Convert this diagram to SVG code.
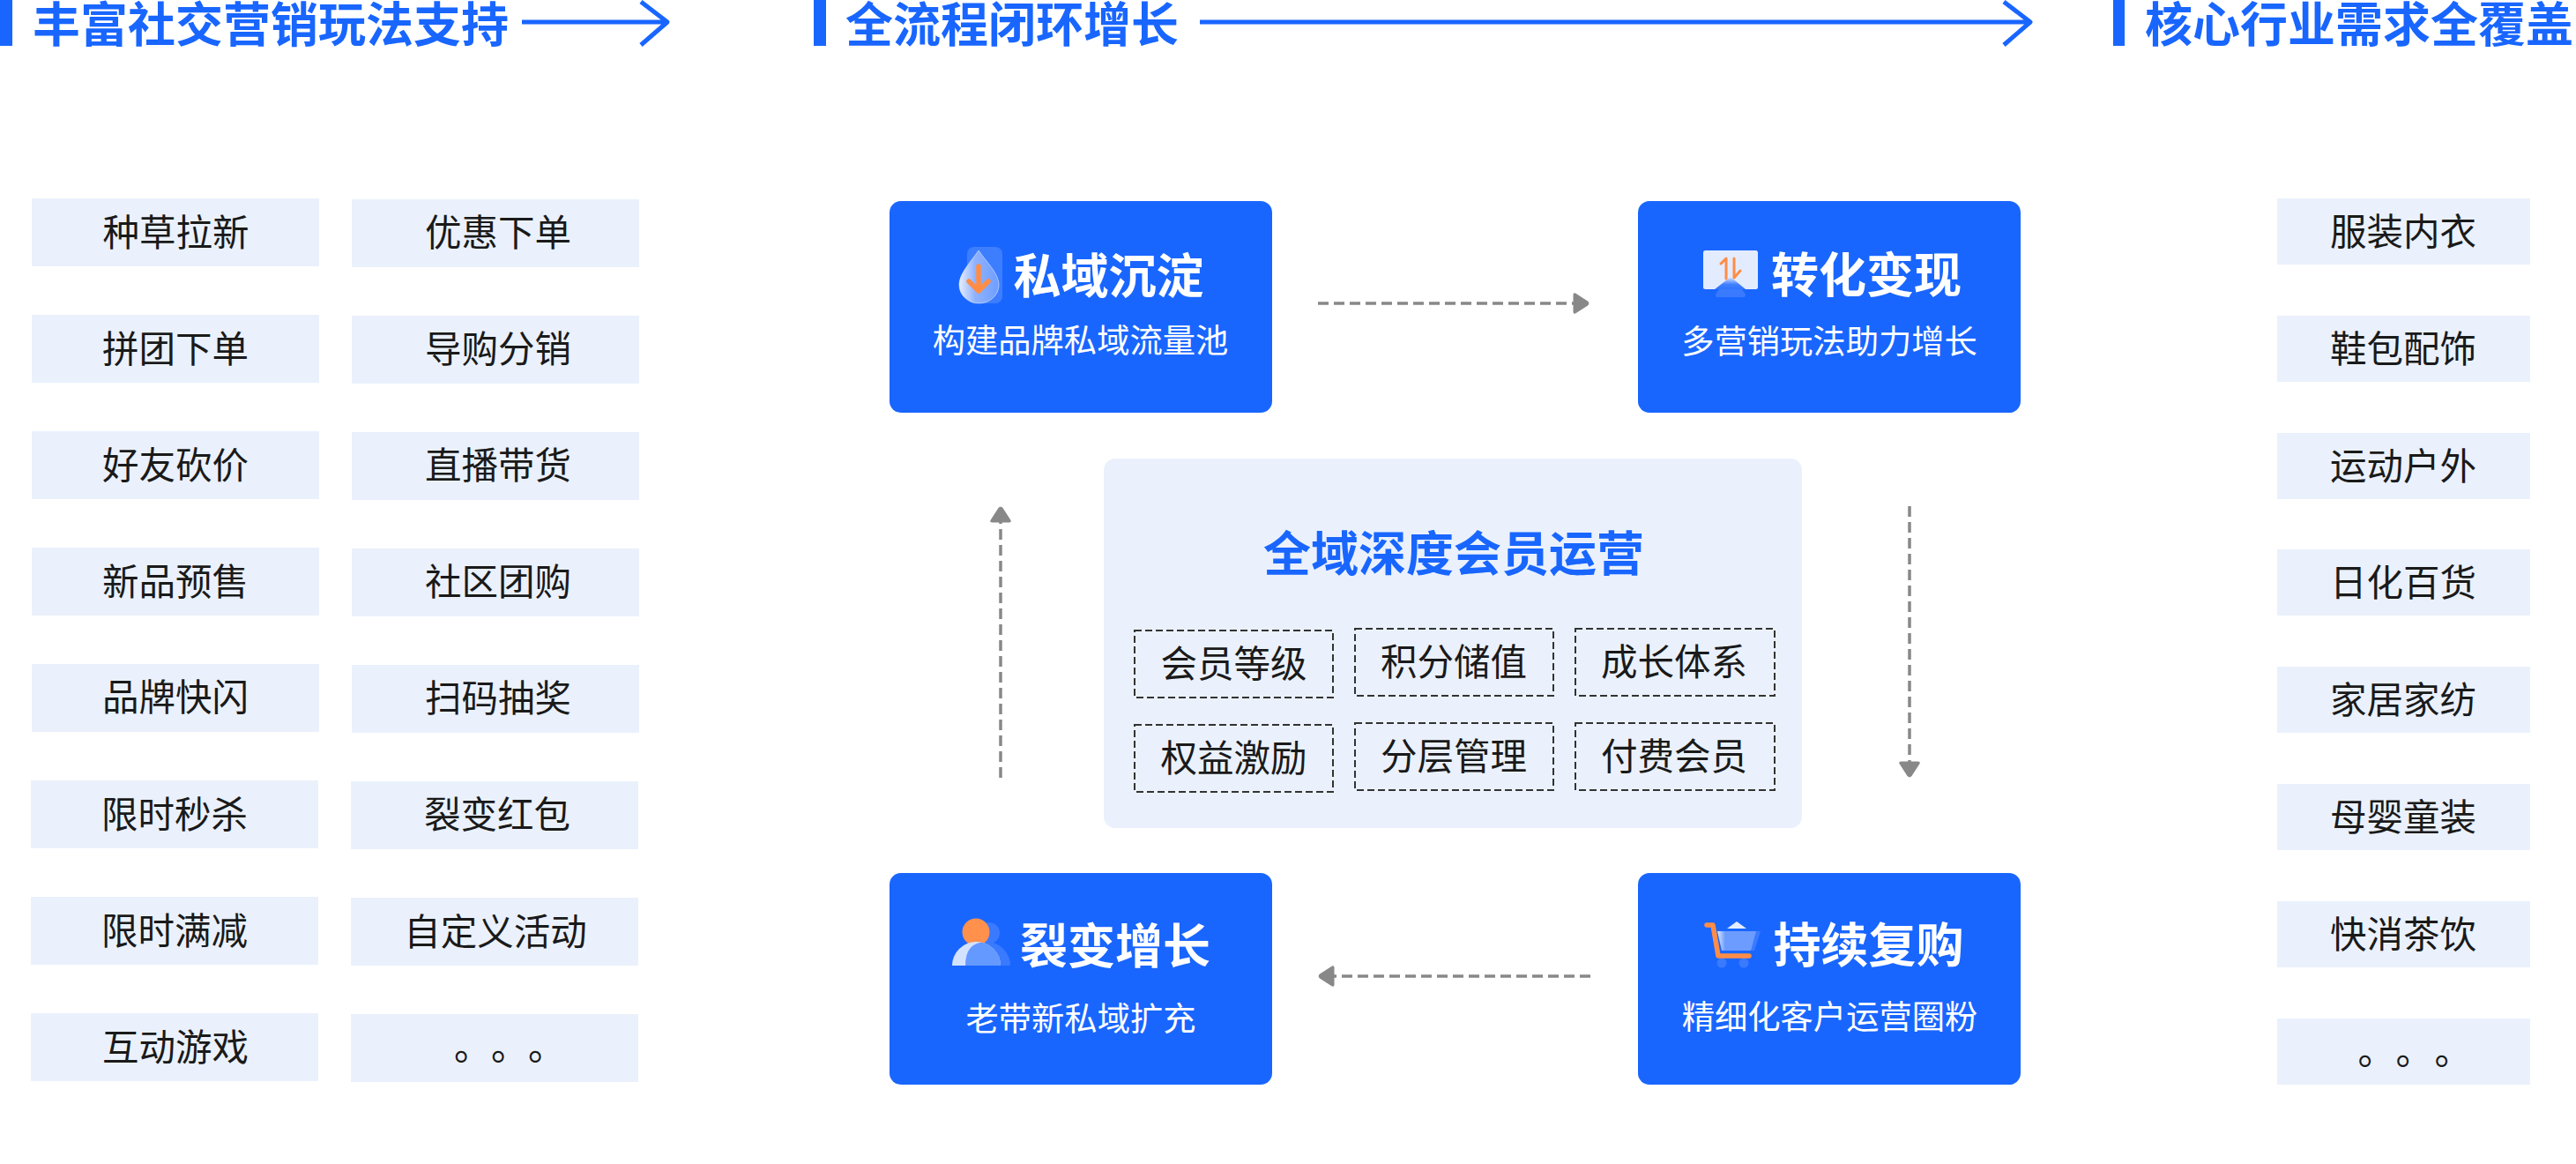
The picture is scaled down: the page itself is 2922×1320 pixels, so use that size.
<svg xmlns="http://www.w3.org/2000/svg" width="2922" height="1320" viewBox="0 0 2922 1320">
<style>
text{font-family:"Noto Sans CJK SC","Noto Sans",sans-serif}
.h{font-size:54px;font-weight:700;fill:#1966ff}
.bar{fill:#1966ff}
.ha{fill:none;stroke:#1966ff;stroke-width:5;stroke-linejoin:round}
.tag{fill:#eaf1fc}
.t{font-size:41.5px;fill:#1a1a1a;text-anchor:middle}
.dots{font-size:42px;fill:#1a1a1a}
.b{fill:#1966ff}
.bt{font-size:54px;font-weight:700;fill:#fff;text-anchor:middle}
.bs{font-size:37.3px;fill:#fff;text-anchor:middle}
.d{fill:none;stroke:#333;stroke-width:2;stroke-dasharray:8 4}
.c{fill:none;stroke:#888;stroke-width:3.5;stroke-dasharray:12 6}
.or{fill:none;stroke:#ff8d47;stroke-linecap:round;stroke-linejoin:round}
</style>
<defs>
<marker id="ah" markerUnits="userSpaceOnUse" markerWidth="24" markerHeight="28" refX="1" refY="14" orient="auto"><path d="M1,4 Q1,2 3,3 L17,12 Q19,14 17,16 L3,25 Q1,26 1,24 Z" fill="#888" stroke="#888" stroke-width="1"/></marker>
<linearGradient id="dg" x1="0" x2="1" y1="0" y2="0"><stop offset="0" stop-color="#e6eeff"/><stop offset=".4" stop-color="#8fb2ff"/><stop offset="1" stop-color="#6f9eff"/></linearGradient>
<linearGradient id="mg" x1="0" x2="0" y1="0" y2="1"><stop offset="0" stop-color="#2f74ff" stop-opacity="0"/><stop offset=".6" stop-color="#2f74ff" stop-opacity=".9"/><stop offset="1" stop-color="#2f74ff"/></linearGradient>
<linearGradient id="cg" x1="0" x2="1" y1="0" y2="0"><stop offset="0" stop-color="#dfe9ff"/><stop offset=".2" stop-color="#6c9cff"/><stop offset="1" stop-color="#6c9cff"/></linearGradient>
<clipPath id="pc"><path d="M1080,1095 A27.5,27 0 0 1 1135,1095 Z"/></clipPath>
</defs>

<g id="header-left">
<rect class="bar" x="0" y="0" width="14" height="52"/>
<text class="h" x="37" y="48">丰富社交营销玩法支持</text>
<path class="ha" d="M592,25 H757 M727,2 L757,25 L727,51"/>
</g>
<g id="header-middle">
<rect class="bar" x="923" y="0" width="14" height="52"/>
<text class="h" x="959" y="48">全流程闭环增长</text>
<path class="ha" d="M1361,25 H2303 M2273,2 L2303,25 L2273,51"/>
</g>
<g id="header-right">
<rect class="bar" x="2397" y="0" width="13" height="52"/>
<text class="h" x="2433" y="48">核心行业需求全覆盖</text>
</g>

<g id="left-col-1">
<g id="l1"><rect class="tag" x="36" y="225" width="326" height="77"/><text class="t" x="199.5" y="279">种草拉新</text></g>
<g id="l2"><rect class="tag" x="36" y="357" width="326" height="77"/><text class="t" x="199" y="411">拼团下单</text></g>
<g id="l3"><rect class="tag" x="36" y="489" width="326" height="77"/><text class="t" x="199" y="543">好友砍价</text></g>
<g id="l4"><rect class="tag" x="36" y="621" width="326" height="77"/><text class="t" x="199" y="675">新品预售</text></g>
<g id="l5"><rect class="tag" x="36" y="753" width="326" height="77"/><text class="t" x="199" y="806">品牌快闪</text></g>
<g id="l6"><rect class="tag" x="35" y="885" width="326" height="77"/><text class="t" x="198" y="939">限时秒杀</text></g>
<g id="l7"><rect class="tag" x="35" y="1017" width="326" height="77"/><text class="t" x="198" y="1071">限时满减</text></g>
<g id="l8"><rect class="tag" x="35" y="1149" width="326" height="77"/><text class="t" x="199" y="1203">互动游戏</text></g>
</g>
<g id="left-col-2">
<g id="m1"><rect class="tag" x="399" y="226" width="326" height="77"/><text class="t" x="565" y="279">优惠下单</text></g>
<g id="m2"><rect class="tag" x="399" y="358" width="326" height="77"/><text class="t" x="565" y="411">导购分销</text></g>
<g id="m3"><rect class="tag" x="399" y="490" width="326" height="77"/><text class="t" x="565" y="543">直播带货</text></g>
<g id="m4"><rect class="tag" x="399" y="622" width="326" height="77"/><text class="t" x="565" y="675">社区团购</text></g>
<g id="m5"><rect class="tag" x="399" y="754" width="326" height="77"/><text class="t" x="565" y="807">扫码抽奖</text></g>
<g id="m6"><rect class="tag" x="398" y="886" width="326" height="77"/><text class="t" x="564" y="939">裂变红包</text></g>
<g id="m7"><rect class="tag" x="398" y="1018" width="326" height="77"/><text class="t" x="562" y="1072">自定义活动</text></g>
<g id="m8"><rect class="tag" x="398" y="1150" width="326" height="77"/><text class="dots" x="515 557 599" y="1202">。。。</text></g>
</g>
<g id="right-col">
<g id="r1"><rect class="tag" x="2583" y="225" width="287" height="75"/><text class="t" x="2726" y="278">服装内衣</text></g>
<g id="r2"><rect class="tag" x="2583" y="358" width="287" height="75"/><text class="t" x="2726" y="411">鞋包配饰</text></g>
<g id="r3"><rect class="tag" x="2583" y="491" width="287" height="75"/><text class="t" x="2726" y="544">运动户外</text></g>
<g id="r4"><rect class="tag" x="2583" y="623" width="287" height="75"/><text class="t" x="2726" y="676">日化百货</text></g>
<g id="r5"><rect class="tag" x="2583" y="756" width="287" height="75"/><text class="t" x="2726" y="809">家居家纺</text></g>
<g id="r6"><rect class="tag" x="2583" y="889" width="287" height="75"/><text class="t" x="2726" y="942">母婴童装</text></g>
<g id="r7"><rect class="tag" x="2583" y="1022" width="287" height="75"/><text class="t" x="2726" y="1075">快消茶饮</text></g>
<g id="r8"><rect class="tag" x="2583" y="1155" width="287" height="75"/><text class="dots" x="2674.5 2717.5 2761.5" y="1207">。。。</text></g>
</g>

<g id="node-sediment">
<rect class="b" x="1009" y="228" width="434" height="240" rx="13"/>
<rect x="1097" y="280" width="40" height="64" rx="8" fill="#fff" fill-opacity=".16"/>
<path d="M1110,284 C1118,296 1133,310 1133,323 A22.5,21 0 0 1 1088,323 C1088,310 1102,296 1110,284 Z" fill="url(#dg)" stroke="#dfe9ff" stroke-width=".6"/>
<path class="or" stroke-width="5.5" d="M1110,302 V330 M1099,319 L1110,330 L1121,319"/>
<text class="bt" x="1257.5" y="333">私域沉淀</text>
<text class="bs" x="1225.5" y="400">构建品牌私域流量池</text>
</g>
<g id="node-convert">
<rect class="b" x="1858" y="228" width="434" height="240" rx="13"/>
<rect x="1932" y="284" width="62" height="44" rx="2.5" fill="#e3ecff"/>
<path d="M1950,328 H1976 L1980,334 Q1980,337 1978,337 H1948 Q1946,337 1946,334 Z" fill="#3a7aff"/>
<path d="M1963,314 L1980,328 H1945 Z" fill="url(#mg)"/>
<path class="or" stroke-width="3" d="M1952,299 L1958,293 V316 M1967,293 V315 L1974,307"/>
<text class="bt" x="2117" y="332">转化变现</text>
<text class="bs" x="2075" y="401">多营销玩法助力增长</text>
</g>
<g id="node-fission">
<rect class="b" x="1009" y="990" width="434" height="240" rx="13"/>
<circle cx="1122" cy="1058" r="12" fill="#3a7aff"/>
<path d="M1095,1095 V1085 Q1100,1068 1119,1068 A27,27 0 0 1 1146,1095 Z" fill="#3a7aff"/>
<circle cx="1107" cy="1057" r="15.5" fill="#ff914d"/>
<path d="M1080,1095 A27.5,27 0 0 1 1135,1095 Z" fill="#d3e2ff"/>
<path clip-path="url(#pc)" d="M1095,1095 Q1095,1068 1119,1068 H1140 V1095 Z" fill="#6499ff"/>
<text class="bt" x="1265" y="1093">裂变增长</text>
<text class="bs" x="1226" y="1169">老带新私域扩充</text>
</g>
<g id="node-repurchase">
<rect class="b" x="1858" y="990" width="434" height="240" rx="13"/>
<path d="M1959,1053 L1970,1045 L1981,1053 Z" fill="#e3ecff"/>
<path d="M1955,1056 H1997 L1990,1078 H1960 Z" fill="#3a7aff"/>
<path d="M1948,1056 H1992 L1986,1078 H1953 Z" fill="url(#cg)"/>
<circle cx="1953" cy="1092" r="5.5" fill="#3a7aff"/>
<circle cx="1978" cy="1092" r="5.5" fill="#3a7aff"/>
<path class="or" stroke-width="5.5" d="M1936,1049 H1943 L1949,1084 H1984"/>
<text class="bt" x="2119.5" y="1092">持续复购</text>
<text class="bs" x="2075.5" y="1167">精细化客户运营圈粉</text>
</g>

<g id="node-center">
<rect class="tag" x="1252" y="520" width="792" height="419" rx="13"/>
<text class="h" x="1649" y="648" text-anchor="middle">全域深度会员运营</text>
<g id="c1"><rect class="d" x="1287" y="715" width="225" height="76"/><text class="t" x="1399.5" y="768">会员等级</text></g>
<g id="c2"><rect class="d" x="1537" y="713" width="225" height="76"/><text class="t" x="1649" y="766">积分储值</text></g>
<g id="c3"><rect class="d" x="1787" y="713" width="226" height="76"/><text class="t" x="1899" y="766">成长体系</text></g>
<g id="c4"><rect class="d" x="1287" y="822" width="225" height="76"/><text class="t" x="1399.5" y="875">权益激励</text></g>
<g id="c5"><rect class="d" x="1537" y="820" width="225" height="76"/><text class="t" x="1649" y="873">分层管理</text></g>
<g id="c6"><rect class="d" x="1787" y="820" width="226" height="76"/><text class="t" x="1899" y="873">付费会员</text></g>
</g>

<g id="connectors">
<path class="c" d="M1495,344 H1785" marker-end="url(#ah)"/>
<path class="c" d="M2166,574 V864" marker-end="url(#ah)"/>
<path class="c" d="M1804,1107 H1513" marker-end="url(#ah)"/>
<path class="c" d="M1135,882 V592" marker-end="url(#ah)"/>
</g>
</svg>
